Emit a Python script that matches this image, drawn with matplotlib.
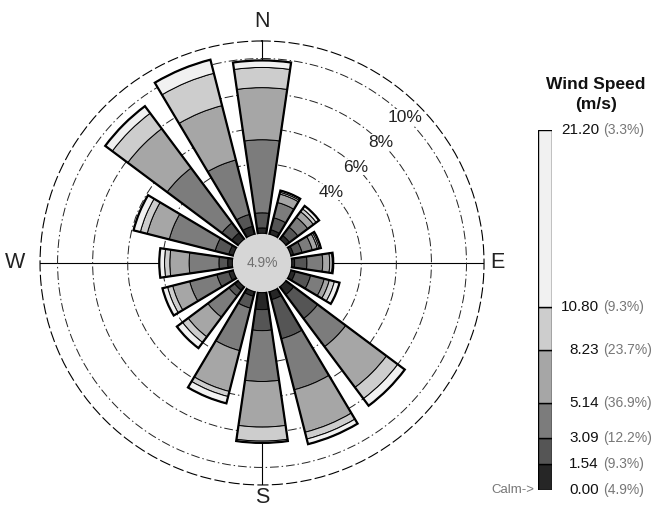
import numpy as np
import matplotlib
matplotlib.use('Agg')
import matplotlib.pyplot as plt
from matplotlib.transforms import blended_transform_factory

plt.rcParams['font.family'] = ['Liberation Sans', 'DejaVu Sans']

# ---------------- data ----------------
directions = ['N', 'NNE', 'NE', 'ENE', 'E', 'ESE', 'SE', 'SSE',
              'S', 'SSW', 'SW', 'WSW', 'W', 'WNW', 'NW', 'NNW']
# frequency (%) of each direction per wind-speed class
spd_000_154 = [0.34, 0.30, 0.30, 0.20, 0.20, 0.30, 0.60, 0.50, 1.00, 0.30, 0.30, 0.30, 0.30, 0.30, 0.50, 0.50]
spd_154_309 = [0.86, 0.70, 0.60, 0.50, 0.70, 0.90, 1.70, 2.30, 1.20, 0.70, 0.40, 0.70, 0.50, 0.80, 0.70, 0.70]
spd_309_514 = [4.17, 0.90, 0.70, 0.60, 0.90, 0.80, 2.00, 3.00, 2.90, 2.50, 1.50, 1.60, 1.70, 2.70, 3.90, 3.20]
spd_514_823 = [2.97, 0.50, 0.40, 0.30, 0.40, 0.30, 2.90, 2.50, 2.60, 2.40, 1.40, 1.00, 1.10, 1.30, 2.80, 3.20]
spd_823_1080 = [1.15, 0.10, 0.20, 0.10, 0.15, 0.30, 0.80, 0.40, 0.80, 0.30, 0.40, 0.30, 0.30, 0.40, 1.10, 1.90]
spd_1080_2120 = [0.40, 0.10, 0.20, 0.10, 0.05, 0.30, 0.50, 0.30, 0.10, 0.40, 0.40, 0.30, 0.30, 0.40, 0.50, 0.80]

speed_edges = [0.00, 1.54, 3.09, 5.14, 8.23, 10.80, 21.20]
speed_pct_labels = ['4.9%', '9.3%', '12.2%', '36.9%', '23.7%', '9.3%', '3.3%']
calm_pct = 4.9
ring_pcts = [4, 6, 8, 10]
compass_labels = ['N', 'E', 'S', 'W']
compass_angles = [0, 90, 180, 270]

# ---------------- style ----------------
bin_colors = ['#262626', '#555555', '#7c7c7c', '#a6a6a6', '#cdcdcd', '#f1f1f1']
calm_color = '#d6d6d6'
hole = 1.66          # radius of the calm circle in % units
r_max = 11
petal_width = np.deg2rad(16.5)
label_r = [12.1, 11.75, 11.7, 12.4]   # radial position of compass letters

fig = plt.figure(figsize=(6.67, 5.09), dpi=100)
ax = fig.add_axes([0.0600, 0.0472, 0.6657, 0.8723], projection='polar')
ax.set_theta_zero_location('N')
ax.set_theta_direction(-1)
ax.set_ylim(-hole, r_max)
ax.set_axisbelow(True)

theta = np.deg2rad(np.arange(len(directions)) * 360.0 / len(directions))
bins = [spd_000_154, spd_154_309, spd_309_514, spd_514_823, spd_823_1080, spd_1080_2120]
bottom = np.zeros(len(directions))
for vals, col in zip(bins, bin_colors):
    vals = np.array(vals)
    ax.bar(theta, vals, width=petal_width, bottom=bottom, color=col,
           edgecolor='black', linewidth=0.7, zorder=3)
    bottom += vals
ax.bar(theta, bottom, width=petal_width, bottom=0, fill=False,
       edgecolor='black', linewidth=1.6, zorder=4)

# calm circle
ax.bar(0, hole, width=2 * np.pi, bottom=-hole, color=calm_color,
       edgecolor='none', zorder=5)
ax.text(0, -hole, f'{calm_pct}%', ha='center', va='center', fontsize=10,
        color='#707070', zorder=6)

# grid
ax.set_yticks(ring_pcts)
ax.set_yticklabels([])
ax.yaxis.grid(True, color='#222222', linestyle=(0, (9, 3, 1.5, 3)), linewidth=0.7)
ax.set_xticks(np.deg2rad(compass_angles))
ax.set_xticklabels([])
ax.xaxis.grid(True, color='black', linestyle='-', linewidth=0.8)
ax.spines['polar'].set_linestyle((0, (9, 4)))
ax.spines['polar'].set_linewidth(0.8)
ax.spines['inner'].set_visible(False)
for lab, ang, rr in zip(compass_labels, compass_angles, label_r):
    ax.text(np.deg2rad(ang), rr, lab, ha='center', va='center', fontsize=15.5,
            color='#222222', clip_on=False)
for r in ring_pcts:
    ax.text(np.deg2rad(44.5), r, f'{r}%', ha='center', va='center', fontsize=12.5,
            color='#222222', zorder=2.5,
            bbox=dict(facecolor='white', edgecolor='none', pad=0.5))

# ---------------- legend (speed bar) ----------------
lax = fig.add_axes([538 / 667, 1 - 490 / 509, 14 / 667, 360 / 509])
lax.set_xlim(0, 1)
lax.set_ylim(speed_edges[0], speed_edges[-1])
lax.bar(0.5, np.diff(speed_edges), width=1, bottom=speed_edges[:-1],
        color=bin_colors, edgecolor='black', linewidth=1.0)
lax.axis('off')
tr = blended_transform_factory(lax.transAxes, lax.transData)
for v, p in zip(speed_edges, speed_pct_labels):
    lax.text(4.35, v, f'{v:.2f}', ha='right', va='center', fontsize=11,
             color='#111111', transform=tr)
    lax.text(4.65, v, f'({p})', ha='left', va='center', fontsize=10,
             color='#777777', transform=tr)
lax.text(-0.25, speed_edges[0], 'Calm->', ha='right', va='center', fontsize=9.5,
         color='#777777', transform=tr)
fig.text(596 / 667, 1 - 84 / 509, 'Wind Speed', ha='center', va='center',
         fontsize=12.5, fontweight='bold', color='#111111')
fig.text(596 / 667, 1 - 104 / 509, '(m/s)', ha='center', va='center',
         fontsize=12.5, fontweight='bold', color='#111111')

fig.savefig('out.png', dpi=100, facecolor='white')
